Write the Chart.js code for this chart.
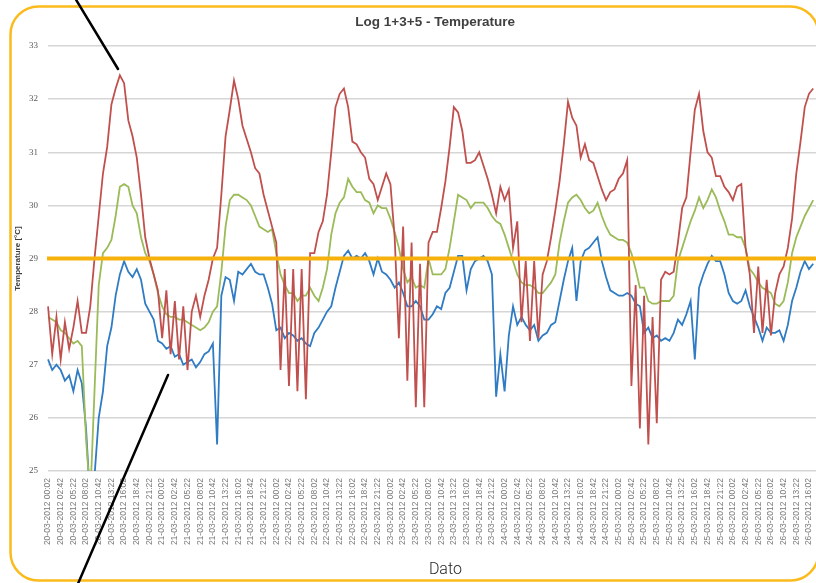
<!DOCTYPE html>
<html lang="da">
<head>
  <meta charset="UTF-8">
  <title>Log 1+3+5 - Temperature</title>
  <script src="https://cdn.jsdelivr.net/npm/chart.js@4"></script>
  <style>
    html, body { margin: 0; padding: 0; background: #fff; overflow: hidden; width: 816px; height: 583px; }
    #wrap { position: absolute; left: 0; top: 0; width: 860px; height: 583px; }
  </style>
</head>
<body>
  <div id="wrap"><canvas id="tempChart" width="860" height="583"></canvas></div>

  <script>
    // x tick labels, one every 2h40 (every third sample)
    const tickLabels = [
      '20-03-2012 00:02', '20-03-2012 02:42', '20-03-2012 05:22', '20-03-2012 08:02', '20-03-2012 10:42', '20-03-2012 13:22', '20-03-2012 16:02', '20-03-2012 18:42', '20-03-2012 21:22',
      '21-03-2012 00:02', '21-03-2012 02:42', '21-03-2012 05:22', '21-03-2012 08:02', '21-03-2012 10:42', '21-03-2012 13:22', '21-03-2012 16:02', '21-03-2012 18:42', '21-03-2012 21:22',
      '22-03-2012 00:02', '22-03-2012 02:42', '22-03-2012 05:22', '22-03-2012 08:02', '22-03-2012 10:42', '22-03-2012 13:22', '22-03-2012 16:02', '22-03-2012 18:42', '22-03-2012 21:22',
      '23-03-2012 00:02', '23-03-2012 02:42', '23-03-2012 05:22', '23-03-2012 08:02', '23-03-2012 10:42', '23-03-2012 13:22', '23-03-2012 16:02', '23-03-2012 18:42', '23-03-2012 21:22',
      '24-03-2012 00:02', '24-03-2012 02:42', '24-03-2012 05:22', '24-03-2012 08:02', '24-03-2012 10:42', '24-03-2012 13:22', '24-03-2012 16:02', '24-03-2012 18:42', '24-03-2012 21:22',
      '25-03-2012 00:02', '25-03-2012 02:42', '25-03-2012 05:22', '25-03-2012 08:02', '25-03-2012 10:42', '25-03-2012 13:22', '25-03-2012 16:02', '25-03-2012 18:42', '25-03-2012 21:22',
      '26-03-2012 00:02', '26-03-2012 02:42', '26-03-2012 05:22', '26-03-2012 08:02', '26-03-2012 10:42', '26-03-2012 13:22', '26-03-2012 16:02', '26-03-2012 18:42', '26-03-2012 21:22'
    ];
    const pointsPerTick = 3;
    const totalPoints = 189;   // axis runs a bit past the visible crop

    // Log 1 (red)
    const log1 = [
      28.1, 27.2, 27.9, 27.1, 27.8, 27.3, 27.7, 28.2, 27.6, 27.6,
      28.1, 29.0, 29.8, 30.6, 31.1, 31.9, 32.2, 32.45, 32.3, 31.6,
      31.3, 30.9, 30.2, 29.4, 29.0, 28.7, 28.4, 27.5, 28.4, 27.2,
      28.2, 27.1, 28.1, 26.9, 28.0, 28.3, 27.9, 28.3, 28.6, 29.0,
      29.2, 30.2, 31.3, 31.8, 32.35, 32.0, 31.5, 31.25, 31.0, 30.7,
      30.6, 30.2, 29.9, 29.6, 29.3, 26.9, 28.8, 26.6, 28.8, 26.5,
      28.8, 26.35, 29.1, 29.1, 29.5, 29.7, 30.2, 31.0, 31.85, 32.1,
      32.2, 31.85, 31.2, 31.15, 31.0, 30.9, 30.5, 30.4, 30.1, 30.35,
      30.6, 30.4, 29.4, 27.5, 29.6, 26.7, 29.3, 26.2, 28.9, 26.2,
      29.3, 29.5, 29.5, 29.95, 30.45, 31.1, 31.85, 31.75, 31.4, 30.8,
      30.8, 30.85, 31.0, 30.75, 30.5, 30.2, 29.85, 30.35, 30.1, 30.3,
      29.2, 29.7, 27.8, 28.95, 27.45, 28.95, 27.5, 28.7, 28.95, 29.4,
      29.9, 30.45, 31.15, 31.95, 31.65, 31.5, 30.9, 31.15, 30.85, 30.8,
      30.55, 30.3, 30.1, 30.25, 30.3, 30.5, 30.6, 30.85, 26.6, 28.5,
      25.8, 28.3, 25.5, 27.9, 25.9, 28.6, 28.75, 28.7, 28.75, 29.3,
      29.95, 30.15, 31.0, 31.8, 32.1, 31.4, 31.0, 30.9, 30.55, 30.55,
      30.35, 30.25, 30.1, 30.35, 30.4, 29.2, 28.7, 27.6, 28.85, 27.6,
      28.6, 27.55, 28.35, 28.7, 28.85, 29.2, 29.75, 30.6, 31.2, 31.85,
      32.1, 32.2
    ];

    // Log 3 (green)
    const log3 = [
      27.9, 27.85, 27.8, 27.65, 27.6, 27.5, 27.4, 27.45, 27.35, 25.6,
      24.5, 26.5, 28.5, 29.1, 29.2, 29.35, 29.8, 30.35, 30.4, 30.35,
      30.0, 29.85, 29.4, 29.1, 28.95, 28.7, 28.35, 28.1, 27.95, 27.9,
      27.9, 27.85, 27.85, 27.8, 27.75, 27.7, 27.65, 27.7, 27.8, 28.0,
      28.1, 28.75, 29.6, 30.1, 30.2, 30.2, 30.15, 30.1, 30.0, 29.8,
      29.6, 29.55, 29.5, 29.55, 29.1, 28.7, 28.5, 28.35, 28.35, 28.2,
      28.3, 28.3, 28.45, 28.3, 28.2, 28.45, 28.8, 29.45, 29.85, 30.05,
      30.15, 30.5, 30.35, 30.25, 30.25, 30.1, 30.05, 29.85, 30.0, 29.95,
      29.95, 29.75, 29.5, 29.2, 28.8, 28.55, 28.65, 28.45, 28.5, 28.45,
      29.0, 28.7, 28.7, 28.7, 28.8, 29.2, 29.7, 30.2, 30.15, 30.1,
      29.95, 30.05, 30.05, 30.05, 29.95, 29.8, 29.7, 29.65, 29.45, 29.2,
      28.95, 28.7, 28.55, 28.5, 28.5, 28.45, 28.35, 28.35, 28.45, 28.55,
      28.7, 29.3, 29.7, 30.05, 30.15, 30.2, 30.1, 29.95, 29.85, 29.9,
      30.05, 29.8, 29.6, 29.45, 29.4, 29.35, 29.35, 29.3, 29.1, 28.8,
      28.45, 28.45, 28.2, 28.15, 28.15, 28.2, 28.2, 28.2, 28.3, 28.95,
      29.2, 29.45, 29.7, 29.9, 30.15, 29.95, 30.1, 30.3, 30.15, 29.9,
      29.7, 29.45, 29.45, 29.4, 29.4, 29.2, 28.8, 28.7, 28.55, 28.45,
      28.4, 28.35, 28.15, 28.1, 28.2, 28.55, 29.1, 29.4, 29.6, 29.8,
      29.95, 30.1
    ];

    // Log 5 (blue)
    const log5 = [
      27.1, 26.9, 27.0, 26.9, 26.7, 26.8, 26.5, 26.9, 26.65, 25.8,
      24.4, 24.9, 26.0, 26.5, 27.35, 27.7, 28.3, 28.7, 28.95, 28.75,
      28.65, 28.8, 28.6, 28.15, 28.0, 27.85, 27.45, 27.4, 27.3, 27.35,
      27.15, 27.2, 27.0, 27.05, 27.1, 26.95, 27.05, 27.2, 27.25, 27.4,
      25.5, 28.3, 28.65, 28.6, 28.2, 28.75, 28.7, 28.8, 28.9, 28.75,
      28.7, 28.7, 28.45, 28.15, 27.65, 27.7, 27.5, 27.6, 27.55, 27.45,
      27.5, 27.4, 27.35, 27.6, 27.7, 27.85, 28.0, 28.1, 28.45, 28.75,
      29.05, 29.15, 29.0, 29.05, 29.0, 29.1, 28.95, 28.7, 29.0, 28.75,
      28.7, 28.6, 28.45, 28.55, 28.35, 28.1, 28.1, 28.2, 28.1, 27.85,
      27.85, 27.95, 28.1, 28.05, 28.35, 28.45, 28.75, 29.05, 29.05, 28.4,
      28.8, 28.95, 29.0, 29.05, 28.95, 28.7, 26.4, 27.2, 26.5, 27.55,
      28.1, 27.75, 27.9, 27.75, 27.65, 27.75, 27.45, 27.55, 27.6, 27.75,
      27.8, 28.2, 28.6, 28.95, 29.2, 28.2, 28.95, 29.15, 29.2, 29.3,
      29.4, 28.95, 28.65, 28.4, 28.35, 28.3, 28.3, 28.35, 28.3, 28.15,
      28.1, 27.6, 27.7, 27.5, 27.55, 27.45, 27.5, 27.45, 27.6, 27.85,
      27.75, 27.95, 28.2, 27.1, 28.45, 28.7, 28.9, 29.05, 28.95, 28.95,
      28.7, 28.35, 28.2, 28.15, 28.2, 28.4, 28.1, 27.9, 27.7, 27.45,
      27.7, 27.6, 27.6, 27.65, 27.45, 27.75, 28.2, 28.45, 28.75, 28.95,
      28.8, 28.9
    ];

    const threshold = 29;

    const labels = [];
    for (let i = 0; i < totalPoints; i++) {
      labels.push(i % pointsPerTick === 0 ? (tickLabels[i / pointsPerTick] || '') : '');
    }

    // threshold line, orange frame and the two pointer lines
    const overlay = {
      id: 'overlay',
      afterDatasetsDraw(chart) {
        const { ctx, chartArea, scales: { y } } = chart;
        const yy = y.getPixelForValue(threshold);
        ctx.save();
        ctx.strokeStyle = '#f7b10c';
        ctx.lineWidth = 4;
        ctx.beginPath();
        ctx.moveTo(chartArea.left - 1, yy);
        ctx.lineTo(chartArea.right, yy);
        ctx.stroke();
        ctx.restore();
      },
      afterDraw(chart) {
        const ctx = chart.ctx;
        ctx.save();
        ctx.strokeStyle = '#fbbb1c';
        ctx.lineWidth = 2.5;
        ctx.beginPath();
        ctx.roundRect(10.5, 6.5, 808, 574, 28);
        ctx.stroke();

        ctx.strokeStyle = '#000';
        ctx.lineWidth = 2.5;
        ctx.lineCap = 'round';
        ctx.beginPath();
        ctx.moveTo(75, -2);
        ctx.lineTo(118, 69);
        ctx.moveTo(168, 375);
        ctx.lineTo(77, 586);
        ctx.stroke();
        ctx.restore();
      }
    };

    const ctx = document.getElementById('tempChart').getContext('2d');
    const tempChart = new Chart(ctx, {
      type: 'line',
      data: {
        labels: labels,
        datasets: [
          { label: 'Log 1', data: log1, borderColor: '#c0504d', borderWidth: 1.8, pointRadius: 0, tension: 0 },
          { label: 'Log 3', data: log3, borderColor: '#9bbb59', borderWidth: 1.8, pointRadius: 0, tension: 0 },
          { label: 'Log 5', data: log5, borderColor: '#2f7bc4', borderWidth: 1.8, pointRadius: 0, tension: 0 }
        ]
      },
      options: {
        responsive: false,
        animation: false,
        layout: { padding: { left: 22, right: 11.7, top: 0, bottom: 0 } },
        plugins: {
          legend: { display: false },
          tooltip: { enabled: false },
          title: {
            display: true,
            text: 'Log 1+3+5 - Temperature',
            color: '#404040',
            font: { family: 'Liberation Sans', size: 13.5, weight: 'bold' },
            padding: { top: 14, bottom: 15.8 }
          }
        },
        scales: {
          x: {
            grid: { display: false, drawTicks: false },
            border: { display: false },
            ticks: {
              autoSkip: false,
              minRotation: 90,
              maxRotation: 90,
              padding: 7,
              color: '#7a7a7a',
              font: { family: 'Liberation Sans', size: 8.5 }
            },
            title: {
              display: true,
              text: 'Dato',
              color: '#262626',
              font: { family: 'Roboto', size: 16, weight: 300 },
              padding: { top: 0, bottom: 3 }
            },
            afterFit: s => { s.height = 112; }
          },
          y: {
            min: 25,
            max: 33,
            ticks: {
              stepSize: 1,
              padding: 10,
              color: '#595959',
              font: { family: 'Liberation Serif', size: 9 }
            },
            grid: { color: '#d6d6d6', lineWidth: 1.5, drawTicks: false },
            border: { display: false },
            title: {
              display: true,
              text: 'Temperature [°C]',
              color: '#404040',
              font: { family: 'Liberation Sans', size: 8, weight: 'bold' },
              padding: { top: -8.8, bottom: 0 }
            },
            afterFit: s => { s.width = 26; }
          }
        }
      },
      plugins: [overlay]
    });
  </script>
</body>
</html>
